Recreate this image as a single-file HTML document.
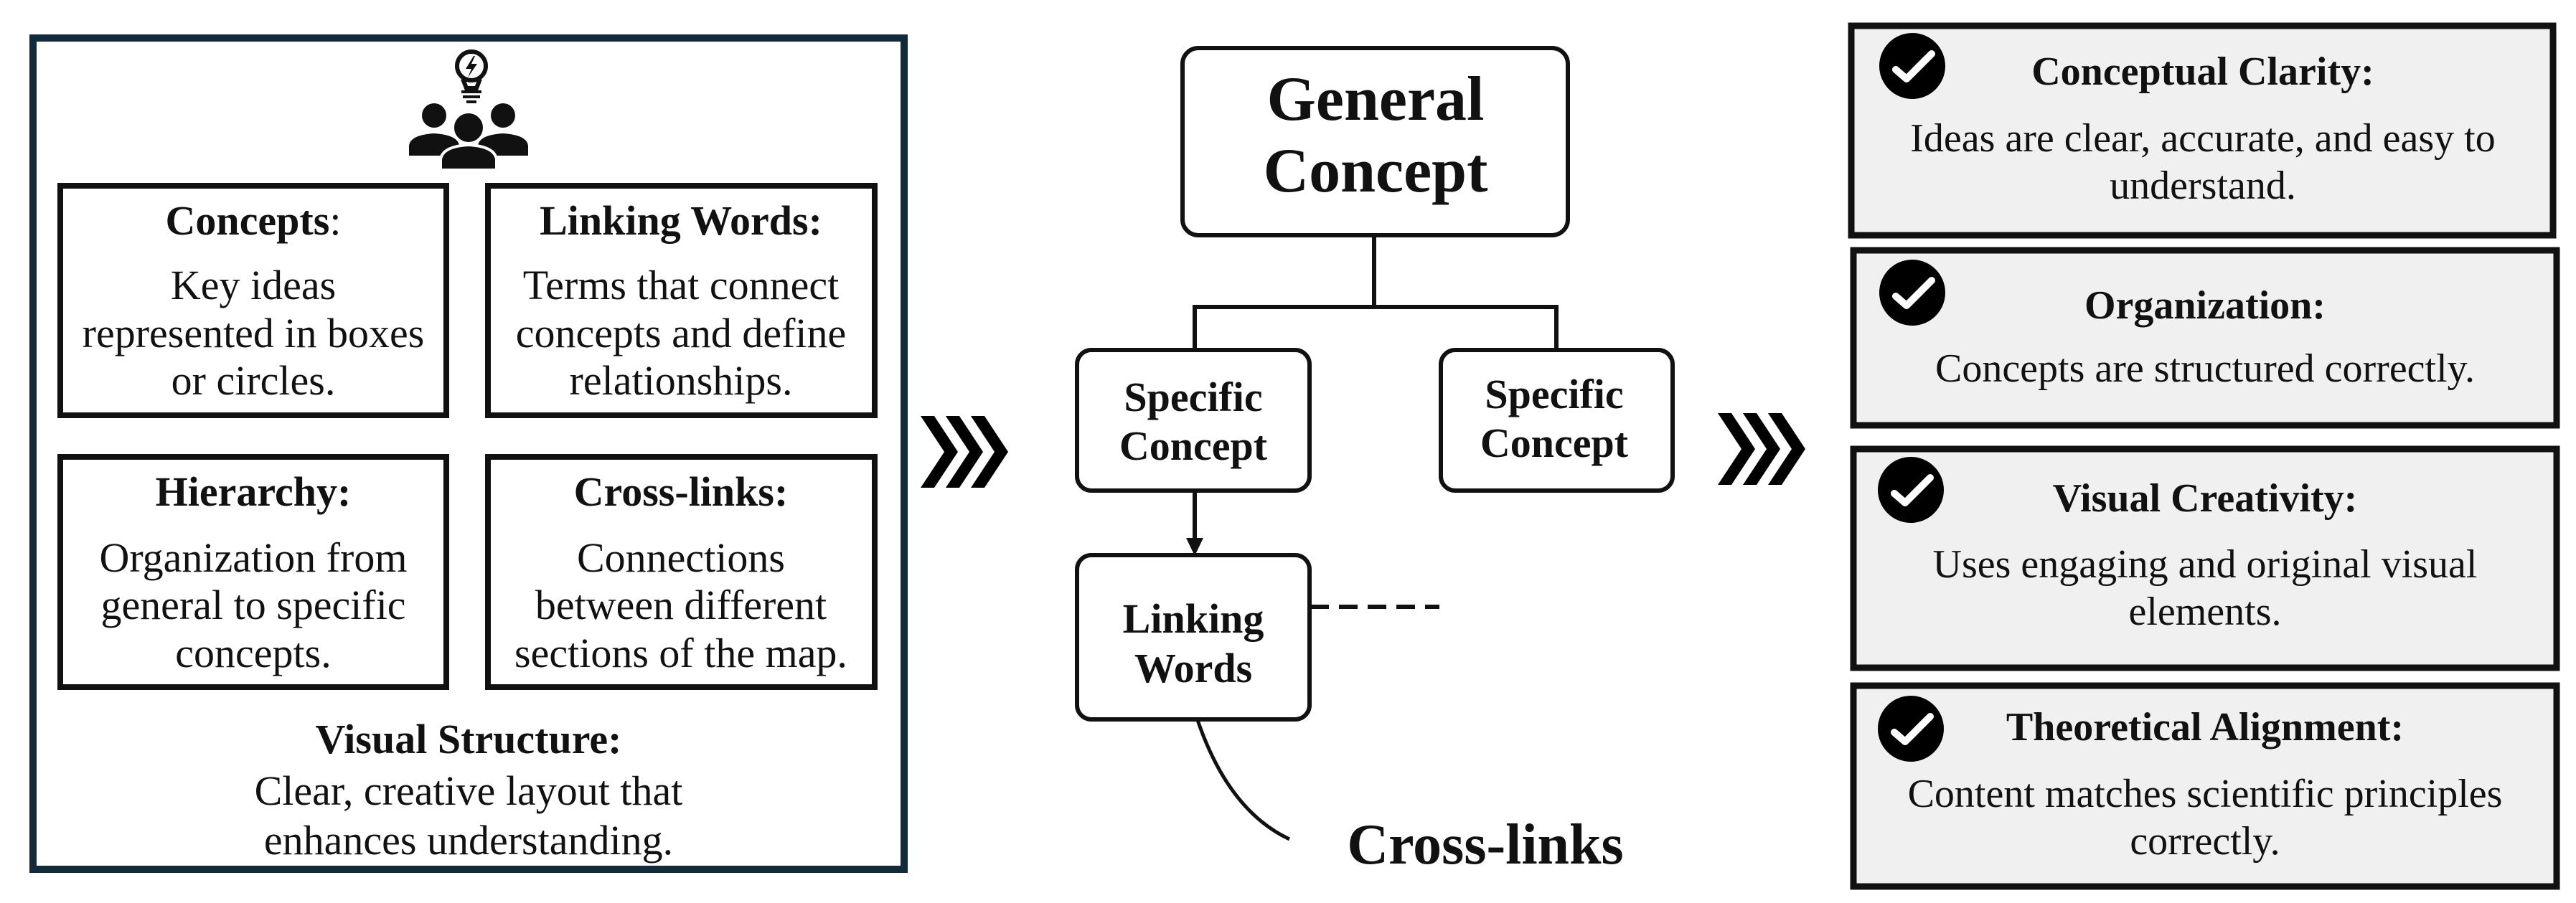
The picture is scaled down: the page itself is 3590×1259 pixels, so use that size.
<!DOCTYPE html>
<html><head><meta charset="utf-8"><style>
html,body{margin:0;padding:0;background:#fff;}
svg{display:block;}
text{font-family:"Liberation Serif",serif;fill:#111;}
.b{font-weight:bold;}
</style></head><body>
<svg width="3590" height="1259" viewBox="0 0 3590 1259" xmlns="http://www.w3.org/2000/svg">
<!-- LEFT PANEL -->
<rect x="46" y="53" width="1214" height="1159" fill="#fff" stroke="#132a3a" stroke-width="10"/>
<!-- icon -->
<g fill="#111">
  <circle cx="657" cy="92" r="20" fill="none" stroke="#111" stroke-width="6"/>
  <path d="M645 110 L650 123 L664 123 L669 110" fill="none" stroke="#111" stroke-width="6"/>
  <polygon points="660,78 649,96 657,96 652,108 665,89 657,89 662,78"/>
  <rect x="643" y="126" width="28" height="4"/>
  <rect x="645" y="133" width="24" height="4"/>
  <rect x="650" y="140" width="14" height="4"/>
  <circle cx="605" cy="161" r="17"/>
  <path d="M570 217 L570 203 Q572 188 605 186 Q638 188 640 203 L640 217 Z"/>
  <circle cx="701" cy="161" r="17"/>
  <path d="M666 217 L666 203 Q668 188 701 186 Q734 188 736 203 L736 217 Z"/>
  <circle cx="653" cy="178" r="22" stroke="#fff" stroke-width="4"/>
  <path d="M614 237 L614 222 Q617 204 653 202 Q689 204 692 222 L692 237 Z" stroke="#fff" stroke-width="4"/>
</g>
<g fill="none" stroke="#111" stroke-width="8">
  <rect x="84" y="259" width="538" height="320"/>
  <rect x="680" y="259" width="539" height="320"/>
  <rect x="84" y="637" width="538" height="321"/>
  <rect x="680" y="637" width="539" height="321"/>
</g>
<g font-size="58" text-anchor="middle">
  <text x="353" y="327"><tspan class="b">Concepts</tspan>:</text>
  <text x="353" y="417">Key ideas</text>
  <text x="353" y="484">represented in boxes</text>
  <text x="353" y="550">or circles.</text>
  <text x="949" y="327" class="b">Linking Words:</text>
  <text x="949" y="417">Terms that connect</text>
  <text x="949" y="484">concepts and define</text>
  <text x="949" y="550">relationships.</text>
  <text x="353" y="705" class="b">Hierarchy:</text>
  <text x="353" y="797">Organization from</text>
  <text x="353" y="863">general to specific</text>
  <text x="353" y="930">concepts.</text>
  <text x="949" y="705" class="b">Cross-links:</text>
  <text x="949" y="797">Connections</text>
  <text x="949" y="863">between different</text>
  <text x="949" y="930">sections of the map.</text>
  <text x="653" y="1050" class="b">Visual Structure:</text>
  <text x="653" y="1122">Clear, creative layout that</text>
  <text x="653" y="1191">enhances understanding.</text>
</g>
<!-- chevrons -->
<g fill="#000">
  <polygon points="1283,580 1302,580 1335,630 1302,680 1283,680 1316,630"/>
  <polygon points="1318,580 1337,580 1370,630 1337,680 1318,680 1351,630"/>
  <polygon points="1353,580 1372,580 1405,630 1372,680 1353,680 1386,630"/>
  <polygon points="2394,576 2413,576 2446,626 2413,676 2394,676 2427,626"/>
  <polygon points="2429,576 2448,576 2481,626 2448,676 2429,676 2462,626"/>
  <polygon points="2464,576 2483,576 2516,626 2483,676 2464,676 2497,626"/>
</g>
<!-- MIDDLE -->
<g fill="none" stroke="#111" stroke-width="6">
  <rect x="1648" y="67" width="537" height="261" rx="22"/>
  <polyline points="1915,328 1915,428"/>
  <polyline points="1665,488 1665,428 2169,428 2169,488"/>
  <rect x="1501" y="488" width="324" height="196" rx="20"/>
  <rect x="2008" y="488" width="323" height="196" rx="20"/>
  <line x1="1665" y1="684" x2="1665" y2="752"/>
  <rect x="1501" y="774" width="324" height="229" rx="20"/>
  <line x1="1826" y1="846" x2="2006" y2="846" stroke-dasharray="26,14"/>
  <path d="M1669 1004 Q1712 1130 1797 1170" stroke-width="5"/>
</g>
<polygon points="1653,750 1677,750 1665,775" fill="#111"/>
<g text-anchor="middle" class="b">
  <text x="1917" y="167" font-size="88" class="b">General</text>
  <text x="1917" y="267" font-size="88" class="b">Concept</text>
  <text x="1663" y="573" font-size="58" class="b">Specific</text>
  <text x="1663" y="641" font-size="58" class="b">Concept</text>
  <text x="2166" y="569" font-size="58" class="b">Specific</text>
  <text x="2166" y="637" font-size="58" class="b">Concept</text>
  <text x="1663" y="882" font-size="58" class="b">Linking</text>
  <text x="1663" y="951" font-size="58" class="b">Words</text>
  <text x="2070" y="1204" font-size="80" class="b">Cross-links</text>
</g>
<!-- RIGHT -->
<g fill="#f0f0f0" stroke="#111" stroke-width="9">
  <rect x="2580" y="36" width="978" height="292"/>
  <rect x="2583" y="349" width="980" height="244"/>
  <rect x="2583" y="626" width="980" height="305"/>
  <rect x="2583" y="956" width="980" height="280"/>
</g>
<g>
  <circle cx="2665" cy="92" r="46" fill="#000"/>
  <circle cx="2665" cy="408" r="46" fill="#000"/>
  <circle cx="2663" cy="683" r="46" fill="#000"/>
  <circle cx="2663" cy="1016" r="46" fill="#000"/>
  <g fill="none" stroke="#fff" stroke-width="10" stroke-linecap="round" stroke-linejoin="round">
    <polyline points="2642,97 2657,110 2692,75"/>
    <polyline points="2642,413 2657,426 2692,391"/>
    <polyline points="2640,688 2655,701 2690,666"/>
    <polyline points="2640,1021 2655,1034 2690,999"/>
  </g>
</g>
<g text-anchor="middle" font-size="56">
  <text x="3070" y="118" class="b">Conceptual Clarity:</text>
  <text x="3070" y="211">Ideas are clear, accurate, and easy to</text>
  <text x="3070" y="277">understand.</text>
  <text x="3073" y="444" class="b">Organization:</text>
  <text x="3073" y="532">Concepts are structured correctly.</text>
  <text x="3073" y="713" class="b">Visual Creativity:</text>
  <text x="3073" y="805">Uses engaging and original visual</text>
  <text x="3073" y="871">elements.</text>
  <text x="3073" y="1032" class="b">Theoretical Alignment:</text>
  <text x="3073" y="1125">Content matches scientific principles</text>
  <text x="3073" y="1191">correctly.</text>
</g>
</svg>
</body></html>
